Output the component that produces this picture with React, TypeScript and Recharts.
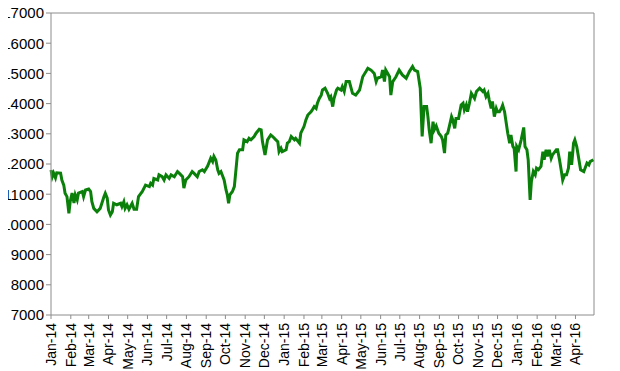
import React from "react";
import { LineChart, Line, XAxis, YAxis, ReferenceLine } from "recharts";

// days since 2014-01-01
const dayOffsets: number[] = [
  0, 2, 4, 7, 9, 15, 17, 20, 22, 25, 28, 30, 33, 36, 38, 41, 43, 49, 51, 54, 59, 62, 64, 67, 72, 77, 83, 85, 88, 90,
  93, 96, 98, 103, 109, 111, 114, 116, 119, 122, 127, 130, 134, 137, 143, 148,
  154, 156, 159, 161, 167, 169, 174, 177, 180, 185, 188, 193, 198, 201, 206, 208, 211, 216, 221, 224, 229, 232, 237,
  240, 245, 248, 250, 253, 255, 258, 261, 263, 266, 271, 274, 276, 278, 280, 284, 287, 289, 292, 295, 300,
  302, 307, 310, 313, 318, 321, 326, 329, 331, 335, 339, 344, 347, 352, 355, 357, 360, 362, 368, 370, 373, 376, 381,
  383, 389, 391, 396, 399, 402, 407, 409, 412, 415, 417, 420, 423, 425, 429, 433, 436, 438, 441, 443, 447,
  449, 454, 456, 459, 462, 467, 472, 477, 483, 488, 493, 496, 501, 506, 509, 511, 517, 519, 522, 524, 530, 532, 535,
  540, 545, 550, 556, 561, 566, 569, 574, 578, 581, 584, 588, 590, 592, 595, 598, 600, 603, 607, 611, 613, 616, 618,
  621, 624, 627, 629, 632, 634, 638, 642, 645, 647, 650, 652, 655, 658, 663, 666, 671, 676, 678, 681, 684, 686, 689,
  691, 694, 697, 699, 702, 705, 707, 710, 715, 718, 720, 723, 725, 728, 729, 732, 736, 740, 742, 745, 747, 750, 752,
  755, 758, 760, 763, 767, 770, 772, 775, 777, 780, 783, 785, 791, 793, 796, 799, 801, 804, 807, 810, 812, 815, 818,
  820, 823, 829, 834, 836, 839, 842, 844, 849,
];

const indexValues: number[] = [
  11800, 11580, 11700, 11540, 11710, 11700, 11470, 11300, 11030, 10920, 10370, 10750, 11040, 10710, 10980, 10810, 11040,
  11090, 10920, 11140, 11170, 11090, 10750, 10530, 10420, 10530, 10920, 11030, 10870, 10480,
  10310, 10420, 10700, 10650, 10700, 10590, 10750, 10530, 10650, 10500, 10700, 10500, 10500, 10920, 11090, 11300,
  11250, 11360, 11300, 11520, 11470, 11640, 11580, 11470, 11640, 11520, 11640, 11580, 11750, 11690, 11580, 11200, 11470,
  11580, 11750, 11690, 11580, 11750, 11810,
  11750, 11920, 12080, 12190, 12080, 12250, 12130, 11810, 11690, 11750, 11470, 11140, 10980, 10700, 10980, 11090, 11250,
  11690, 12360, 12470, 12470,
  12800, 12740, 12850, 12800, 12910, 13020, 13150, 13130, 12740, 12300, 12800, 12960, 12910, 12800, 12740, 12410, 12520,
  12410, 12470, 12690, 12740, 12910, 12800,
  12850, 12690, 13020, 13240, 13460, 13620, 13730, 13790, 13900, 13840, 14010, 14170, 14280, 14450, 14510, 14340, 14170,
  14230, 13900, 14170, 14450,
  14510, 14450, 14560, 14400, 14730, 14730, 14340, 14280, 14450, 14890, 15060, 15170, 15110, 15000, 14730, 14840, 14890,
  15110, 14730, 15110, 14890, 14280, 14730,
  14890, 15110, 14950, 14840, 15060, 15230, 15110, 15060, 14510, 12910, 13900, 13900, 13570, 13130, 12690, 13400, 13130,
  13260, 13020, 12910, 12800, 12360, 12960,
  13020, 13290, 13570, 13460, 13180, 13510, 13510, 13950, 14010, 13790, 13950, 13730, 14010, 14340, 14170, 14400, 14510,
  14400, 14450, 14230, 14340, 14120, 13840,
  14070, 13570, 13840, 13730, 13730, 13840, 13950, 13730, 13020, 12690, 12960, 12580, 12520, 11750, 12580, 12470, 12800,
  13210, 12580, 12470, 12140, 10810, 11420,
  11750, 11640, 11860, 11810, 11920, 12410, 12140, 12470, 12250, 12470, 12190, 12300, 12470, 12470, 12140, 11750, 11470,
  11640, 11640, 11860, 12410, 11970, 12690,
  12800, 12580, 11810, 11750, 11860, 12030, 11970, 12080, 12140,
];

const tickDays: number[] = [
  0, 31, 59, 90, 120, 151, 181, 212, 243, 273, 304, 334, 365, 396, 424, 455, 485, 516, 546, 577, 608, 638, 669, 699,
  730, 761, 790, 821,
];

const tickLabels: string[] = [
  "Jan-14", "Feb-14", "Mar-14", "Apr-14", "May-14", "Jun-14", "Jul-14", "Aug-14", "Sep-14", "Oct-14", "Nov-14", "Dec-14",
  "Jan-15", "Feb-15", "Mar-15", "Apr-15", "May-15", "Jun-15", "Jul-15", "Aug-15", "Sep-15", "Oct-15", "Nov-15", "Dec-15",
  "Jan-16", "Feb-16", "Mar-16", "Apr-16",
];

const yTicks: number[] = [7000, 8000, 9000, 10000, 11000, 12000, 13000, 14000, 15000, 16000, 17000];

const data = dayOffsets.map((d, i) => ({ day: d, value: indexValues[i] }));

const FONT = "'Liberation Sans', Arial, sans-serif";
const AXIS = "#8c8c8c";

const XTick = (props: any) => {
  const { x, y, payload } = props;
  const idx = tickDays.indexOf(payload.value);
  const label = idx >= 0 ? tickLabels[idx] : "";
  return (
    <text
      x={x}
      y={y + 2}
      dy="0.35em"
      textAnchor="end"
      transform={`rotate(-90, ${x}, ${y + 2})`}
      fontSize={14}
      fontFamily={FONT}
      fill="#000"
    >
      {label}
    </text>
  );
};

export default function App() {
  return (
    <div style={{ margin: "-8px 0 0 -8px", width: 620, height: 371, background: "#fff" }}>
      <LineChart
        width={620}
        height={371}
        data={data}
        margin={{ top: 13, right: 26, bottom: 0, left: 0 }}
      >
        <XAxis
          dataKey="day"
          type="number"
          domain={[0, 850]}
          ticks={tickDays}
          interval={0}
          tick={<XTick />}
          tickSize={4}
          tickLine={{ stroke: AXIS }}
          axisLine={{ stroke: AXIS, strokeWidth: 1 }}
          height={56}
        />
        <YAxis
          type="number"
          domain={[7000, 17000]}
          ticks={yTicks}
          interval={0}
          width={51}
          tickSize={5}
          tickMargin={2}
          tickLine={{ stroke: AXIS }}
          axisLine={{ stroke: AXIS, strokeWidth: 1 }}
          tick={{ fontSize: 15, fontFamily: FONT, fill: "#000" }}
        />
        <ReferenceLine y={17000} stroke={AXIS} strokeWidth={1} />
        <ReferenceLine x={850} stroke={AXIS} strokeWidth={1} />
        <Line
          type="linear"
          dataKey="value"
          stroke="#0a800a"
          strokeWidth={3}
          dot={false}
          isAnimationActive={false}
        />
      </LineChart>
    </div>
  );
}
